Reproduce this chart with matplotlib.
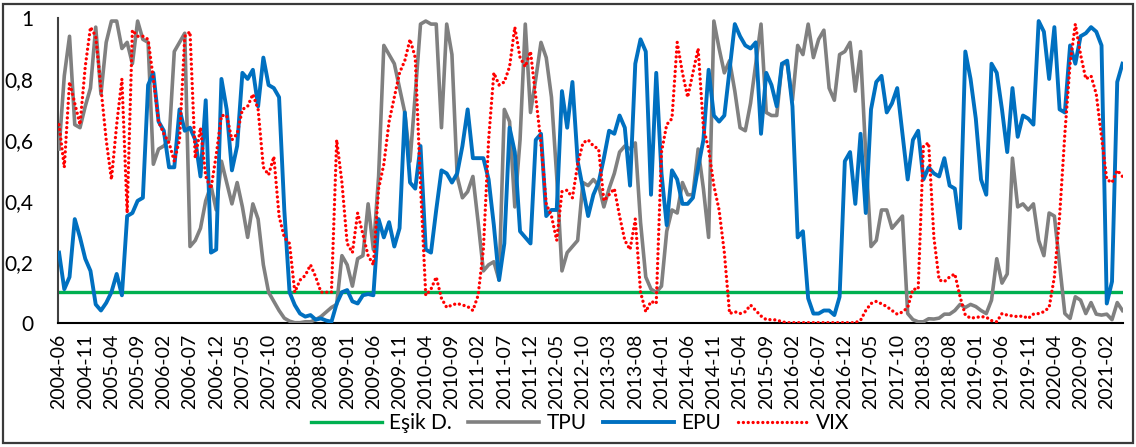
import matplotlib
matplotlib.use("Agg")
import matplotlib.pyplot as plt
import pandas as pd
from matplotlib.patches import Rectangle
from matplotlib.ticker import FuncFormatter

# ---- data ----
months = [p.strftime("%Y-%m") for p in pd.period_range("2004-06", periods=204, freq="M")]

tpu = [
    0.57, 0.81, 0.94, 0.65, 0.64, 0.71, 0.77, 0.97, 0.75, 0.92, 0.99, 0.99,
    0.90, 0.92, 0.85, 0.99, 0.93, 0.92, 0.52, 0.57, 0.58, 0.60, 0.89, 0.92,
    0.95, 0.25, 0.27, 0.31, 0.40, 0.45, 0.37, 0.53, 0.46, 0.39, 0.46, 0.38,
    0.28, 0.39, 0.34, 0.19, 0.10, 0.07, 0.04, 0.015, 0.005, 0.0, 0.0, 0.003,
    0.003, 0.01, 0.02, 0.035, 0.05, 0.06, 0.22, 0.19, 0.12, 0.21, 0.22, 0.39,
    0.24, 0.48, 0.91, 0.88, 0.85, 0.77, 0.69, 0.53, 0.75, 0.98, 0.99, 0.98,
    0.98, 0.64, 0.98, 0.88, 0.48, 0.41, 0.43, 0.48, 0.33, 0.17, 0.19, 0.20,
    0.14, 0.70, 0.66, 0.38, 0.60, 0.98, 0.69, 0.80, 0.92, 0.87, 0.74, 0.48,
    0.17, 0.23, 0.25, 0.27, 0.46, 0.45, 0.47, 0.45, 0.38, 0.44, 0.49, 0.56,
    0.58, 0.57, 0.59, 0.33, 0.15, 0.11, 0.10, 0.12, 0.30, 0.37, 0.36, 0.46,
    0.42, 0.42, 0.57, 0.44, 0.28, 0.99, 0.90, 0.82, 0.86, 0.76, 0.64, 0.63,
    0.72, 0.85, 0.98, 0.69, 0.68, 0.68, 0.85, 0.85, 0.73, 0.91, 0.88, 0.98,
    0.87, 0.93, 0.96, 0.77, 0.73, 0.88, 0.89, 0.92, 0.76, 0.89, 0.55, 0.25,
    0.27, 0.37, 0.37, 0.31, 0.33, 0.35, 0.03, 0.01, 0.003, 0.003, 0.013, 0.012,
    0.015, 0.028, 0.028, 0.04, 0.06, 0.05, 0.06, 0.053, 0.04, 0.03, 0.074, 0.21,
    0.13, 0.16, 0.54, 0.38, 0.39, 0.37, 0.39, 0.27, 0.22, 0.36, 0.35, 0.19,
    0.03, 0.014, 0.085, 0.074, 0.03, 0.066, 0.028, 0.025, 0.028, 0.01, 0.066, 0.04,
]

epu = [
    0.23, 0.11, 0.15, 0.34, 0.28, 0.21, 0.17, 0.06, 0.04, 0.065, 0.10, 0.16,
    0.09, 0.35, 0.36, 0.40, 0.41, 0.78, 0.82, 0.66, 0.63, 0.51, 0.51, 0.70,
    0.63, 0.64, 0.60, 0.48, 0.73, 0.23, 0.24, 0.80, 0.70, 0.50, 0.58, 0.82,
    0.80, 0.83, 0.71, 0.87, 0.78, 0.77, 0.74, 0.37, 0.10, 0.058, 0.03, 0.02,
    0.025, 0.01, 0.014, 0.007, 0.003, 0.063, 0.10, 0.107, 0.07, 0.063, 0.09, 0.094,
    0.09, 0.34, 0.28, 0.33, 0.25, 0.31, 0.69, 0.46, 0.44, 0.58, 0.24, 0.23,
    0.37, 0.50, 0.49, 0.46, 0.49, 0.58, 0.70, 0.54, 0.54, 0.54, 0.47, 0.32,
    0.14, 0.26, 0.64, 0.56, 0.30, 0.28, 0.26, 0.60, 0.62, 0.35, 0.37, 0.37,
    0.76, 0.64, 0.79, 0.53, 0.44, 0.35, 0.42, 0.46, 0.54, 0.63, 0.62, 0.68,
    0.64, 0.45, 0.85, 0.93, 0.89, 0.42, 0.82, 0.49, 0.32, 0.50, 0.47, 0.39,
    0.39, 0.41, 0.51, 0.60, 0.83, 0.68, 0.66, 0.68, 0.83, 0.98, 0.94, 0.91,
    0.90, 0.92, 0.62, 0.82, 0.78, 0.71, 0.85, 0.86, 0.71, 0.28, 0.30, 0.08,
    0.03, 0.03, 0.04, 0.04, 0.025, 0.085, 0.53, 0.56, 0.39, 0.62, 0.36, 0.70,
    0.79, 0.81, 0.69, 0.72, 0.77, 0.62, 0.47, 0.60, 0.63, 0.47, 0.51, 0.49,
    0.48, 0.54, 0.45, 0.44, 0.31, 0.89, 0.80, 0.67, 0.47, 0.42, 0.85, 0.82,
    0.70, 0.56, 0.77, 0.61, 0.68, 0.67, 0.65, 0.99, 0.955, 0.80, 0.97, 0.70,
    0.69, 0.91, 0.85, 0.94, 0.95, 0.97, 0.955, 0.91, 0.063, 0.135, 0.79, 0.85,
]

vix = [
    0.65, 0.51, 0.79, 0.72, 0.65, 0.84, 0.97, 0.94, 0.77, 0.60, 0.47, 0.65,
    0.80, 0.36, 0.96, 0.94, 0.94, 0.93, 0.80, 0.66, 0.62, 0.59, 0.53, 0.60,
    0.94, 0.955, 0.54, 0.64, 0.48, 0.44, 0.55, 0.68, 0.68, 0.60, 0.62, 0.70,
    0.71, 0.75, 0.70, 0.51, 0.485, 0.545, 0.35, 0.28, 0.26, 0.10, 0.14, 0.155,
    0.19, 0.15, 0.10, 0.10, 0.10, 0.60, 0.46, 0.26, 0.23, 0.36, 0.29, 0.22,
    0.19, 0.44, 0.52, 0.66, 0.74, 0.82, 0.86, 0.93, 0.87, 0.45, 0.09, 0.11,
    0.15, 0.08, 0.05, 0.058, 0.063, 0.058, 0.053, 0.04, 0.09, 0.24, 0.60, 0.82,
    0.78, 0.79, 0.84, 0.97, 0.87, 0.84, 0.89, 0.74, 0.59, 0.39, 0.35, 0.27,
    0.43, 0.435, 0.41, 0.52, 0.59, 0.60, 0.58, 0.57, 0.40, 0.42, 0.44, 0.35,
    0.27, 0.24, 0.34, 0.10, 0.036, 0.07, 0.063, 0.56, 0.65, 0.67, 0.92, 0.82,
    0.74, 0.82, 0.90, 0.64, 0.57, 0.45, 0.37, 0.23, 0.03, 0.036, 0.03, 0.036,
    0.058, 0.04, 0.022, 0.01, 0.01, 0.009, 0.003, 0.0, 0.0, 0.0, 0.0, 0.0,
    0.0, 0.0, 0.0, 0.0, 0.0, 0.0, 0.0, 0.0, 0.0, 0.008, 0.04, 0.063,
    0.07, 0.062, 0.053, 0.04, 0.028, 0.035, 0.05, 0.11, 0.11, 0.58, 0.59, 0.28,
    0.14, 0.135, 0.15, 0.16, 0.085, 0.025, 0.015, 0.017, 0.02, 0.018, 0.007, 0.003,
    0.03, 0.025, 0.022, 0.02, 0.022, 0.014, 0.028, 0.03, 0.036, 0.05, 0.15, 0.35,
    0.62, 0.85, 0.98, 0.88, 0.80, 0.81, 0.75, 0.61, 0.47, 0.46, 0.50, 0.48,
]

threshold = [0.1] * len(months)

series_names = ["Eşik D.", "TPU", "EPU", "VIX"]
yticks = [0, 0.2, 0.4, 0.6, 0.8, 1]

# ---- plot ----
plt.rcParams["font.family"] = ["Lato", "DejaVu Sans"]

W, H = 1136, 447
fig = plt.figure(figsize=(W / 100, H / 100), dpi=100)
ax = fig.add_axes([58 / W, 1 - 322.7 / H, (1123 - 58) / W, (322.7 - 18) / H])

x = list(range(len(months)))
ax.plot(x, threshold, color="#00B050", lw=2.4, label=series_names[0], zorder=2)
ax.plot(x, tpu, color="#808080", lw=2.6, label=series_names[1], zorder=3,
        solid_joinstyle="round")
ax.plot(x, epu, color="#0070C0", lw=2.8, label=series_names[2], zorder=4,
        solid_joinstyle="round")
ax.plot(x, vix, color="#FF0000", lw=2.4, linestyle=(0, (0.01, 1.45)),
        dash_capstyle="round", label=series_names[3], zorder=5)

ax.set_xlim(-0.2, len(months) - 1 + 0.1)
ax.set_ylim(0, 1)
ax.set_yticks(yticks)
ax.yaxis.set_major_formatter(FuncFormatter(
    lambda v, p: "0" if v == 0 else ("1" if v == 1 else f"{v:.1f}".replace(".", ","))))
tick_idx = list(range(0, len(months), 5))
ax.set_xticks(tick_idx)
ax.set_xticklabels([months[i] for i in tick_idx], rotation=90)
ax.tick_params(axis="both", length=0, colors="black")
ax.tick_params(axis="x", pad=8, labelsize=14)
ax.tick_params(axis="y", pad=18, labelsize=15)

for s in ["top", "right"]:
    ax.spines[s].set_visible(False)
ax.spines["left"].set_color("#404040")
ax.spines["left"].set_linewidth(1.5)
ax.spines["bottom"].set_color("black")
ax.spines["bottom"].set_linewidth(1.5)

handles, labels = ax.get_legend_handles_labels()
fig.legend(handles, labels, loc="center", bbox_to_anchor=(580 / W, 24 / H),
           ncol=4, frameon=False, fontsize=15, handlelength=3.4,
           handletextpad=0.35, columnspacing=0.8, borderpad=0.2)

fig.patches.append(Rectangle((3 / W, 4 / H), (1133 - 3) / W, (443 - 4) / H,
                             transform=fig.transFigure, fill=False,
                             edgecolor="#3a3a3a", linewidth=1.6))

fig.savefig("out.png", dpi=100)
